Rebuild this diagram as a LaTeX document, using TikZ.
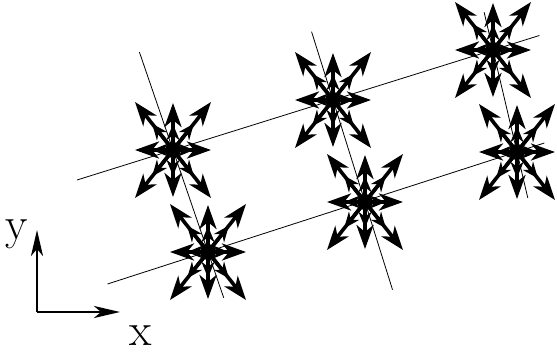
\documentclass[tikz,border=0pt]{standalone}
\usetikzlibrary{arrows.meta,calc}
\begin{document}
\begin{tikzpicture}[x=1pt,y=-1pt,
  dot/.style={circle,fill=black,inner sep=0pt,minimum size=16pt},
  ray/.style={line width=3.6pt,-{Stealth[length=24pt,width=17pt,inset=7pt]}},
  ray2/.style={line width=3.6pt,-{Stealth[length=16pt,width=13pt,inset=5pt]}},
  guide/.style={line width=0.8pt},
  axis/.style={line width=2.4pt,-{Stealth[length=26pt,width=12pt,inset=7pt]}},
  lbl/.style={font=\fontsize{46}{46}\selectfont,inner sep=0pt}]
\useasboundingbox (0,0) rectangle (557,356);
% star centres
\node[dot] (A) at (173,150) {};
\node[dot] (B) at (208,252) {};
\node[dot] (C) at (333,100) {};
\node[dot] (D) at (365,202) {};
\node[dot] (E) at (493,50) {};
\node[dot] (F) at (517,152) {};
% guide lines
\draw[guide] ($(A)!-0.6!(C)$) -- ($(C)!1.29!(E)$);
\draw[guide] ($(B)!-0.64!(D)$) -- ($(D)!1.18!(F)$);
\draw[guide] ($(A)!-0.96!(B)$) -- ($(A)!1.45!(B)$);
\draw[guide] ($(C)!-0.67!(D)$) -- ($(C)!1.86!(D)$);
\draw[guide] ($(E)!-0.37!(F)$) -- ($(E)!1.45!(F)$);
% rays
\foreach \n in {A,B,C,D,E,F}{
  \foreach \dx/\dy in {38/0,-38/0,0/47,0/-47,38/48,-38/48,38/-48,-38/-48}{
    \draw[ray] (\n.center) -- ++(\dx,\dy);
    \draw[ray2] (\n.center) -- ++(0.55*\dx,0.55*\dy);
  }
}
% axes
\coordinate (O) at (37,312);
\coordinate (Yt) at (37,230);
\coordinate (Xt) at (120,312);
\draw[axis] (O) -- (Yt);
\draw[axis] (O) -- (Xt);
\node[lbl] (ylab) at (17,234) {y};
\node[lbl] (xlab) at (141,336) {x};
\end{tikzpicture}
\end{document}
